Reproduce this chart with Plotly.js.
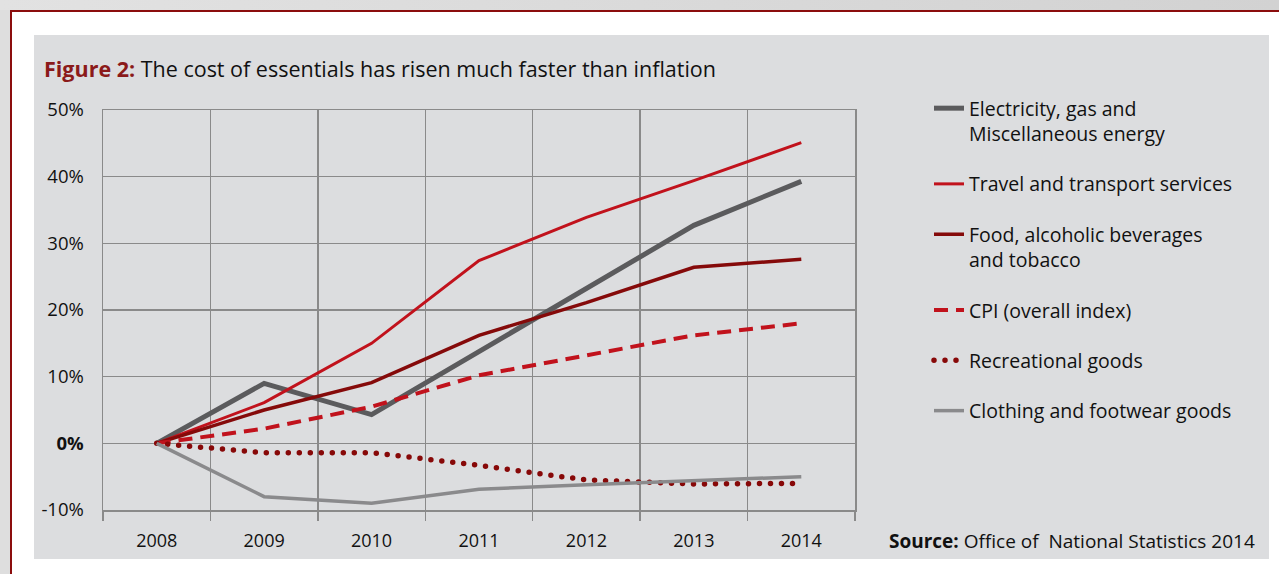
<!DOCTYPE html>
<html>
<head>
<meta charset="utf-8">
<script src="https://cdn.plot.ly/plotly-3.0.1.min.js"></script>
<style>
  html, body { margin: 0; padding: 0; width: 1279px; height: 574px; overflow: hidden; background: #ffffff; }
  #strip { position: absolute; left: 0; top: 0; width: 1279px; height: 10px; background: linear-gradient(to right, #e2e2e2, #d2d2d2); }
  #redtop { position: absolute; left: 10px; top: 10px; width: 1269px; height: 2px; background: #8b0d0d; }
  #redleft { position: absolute; left: 10px; top: 10px; width: 2px; height: 564px; background: #8b0d0d; }
  #leftstrip { position: absolute; left: 0; top: 10px; width: 10px; height: 564px; background: #dedede; }
  #panel { position: absolute; left: 34px; top: 35px; width: 1235px; height: 524px; background: #dcdddf; }
  #chart { position: absolute; left: 0; top: 0; width: 1279px; height: 574px; }
  .scatterlayer .trace:nth-of-type(5) .js-line,
  .legend .scrollbox .groups:nth-of-type(5) .js-line { stroke-linecap: round; }
</style>
</head>
<body>
<div id="strip"></div>
<div id="leftstrip"></div>
<div id="redtop"></div>
<div id="redleft"></div>
<div id="panel"></div>
<div id="chart"></div>
<script>
const years = ["2008", "2009", "2010", "2011", "2012", "2013", "2014"];
const electricity = [0, 9.0, 4.3, 13.8, 23.2, 32.7, 39.3];
const travel = [0, 6.1, 15.0, 27.4, 33.9, 39.4, 45.1];
const food = [0, 5.0, 9.1, 16.2, 21.1, 26.4, 27.6];
const cpi = [0, 2.2, 5.5, 10.2, 13.2, 16.2, 18.0];
const recreational = [0, -1.4, -1.4, -3.3, -5.5, -6.1, -6.0];
const clothing = [0, -8.0, -9.0, -6.9, -6.2, -5.6, -5.0];
const yTickVals = [-10, 0, 10, 20, 30, 40, 50];
const yTickText = ["-10%", "<b>0%</b>", "10%", "20%", "30%", "40%", "50%"];
const names = [
  "Electricity, gas and<br>Miscellaneous energy",
  "Travel and transport services",
  "Food, alcoholic beverages<br>and tobacco",
  "CPI (overall index)",
  "Recreational goods",
  "Clothing and footwear goods"
];

const series = [electricity, travel, food, cpi, recreational, clothing];
const styles = [
  {color: "#5b5b5d", width: 5, dash: "solid"},
  {color: "#c1121c", width: 3, dash: "solid"},
  {color: "#850a0a", width: 3.5, dash: "solid"},
  {color: "#c1121c", width: 4, dash: "14px,8px"},
  {color: "#870808", width: 5.5, dash: "0px,11px"},
  {color: "#8a8a8c", width: 3.5, dash: "solid"}
];

const traces = series.map((s, i) => ({
  x: years,
  y: s,
  type: "scatter",
  mode: "lines",
  name: names[i],
  legendgroup: "g" + i,
  line: styles[i],
  hoverinfo: "skip"
}));

const font = "Open Sans, Noto Sans, sans-serif";

const layout = {
  width: 1279,
  height: 574,
  paper_bgcolor: "rgba(0,0,0,0)",
  plot_bgcolor: "#dcdddf",
  margin: {l: 103, r: 424, t: 110, b: 64},
  font: {family: font, size: 18, color: "#111111"},
  title: {
    text: '<span style="color:#8b1a1a"><b>Figure 2:</b></span> The cost of essentials has risen much faster than inflation',
    font: {family: font, size: 21.5, color: "#111111"},
    x: 44 / 1279, xanchor: "left", xref: "container",
    y: 1 - 69 / 574, yanchor: "middle", yref: "container"
  },
  xaxis: {
    type: "category",
    range: [-0.5, 6.5],
    tickson: "boundaries",
    showgrid: true,
    gridcolor: "#8a8a8a",
    gridwidth: 1.5,
    ticks: "outside",
    ticklen: 9,
    tickwidth: 1.5,
    tickcolor: "#8a8a8a",
    showline: true,
    linecolor: "#8a8a8a",
    linewidth: 1.5,
    mirror: true,
    ticklabelstandoff: 14,
    tickfont: {family: font, size: 18, color: "#111111"},
    zeroline: false,
    fixedrange: true
  },
  yaxis: {
    range: [-10, 50],
    tickvals: yTickVals,
    ticktext: yTickText,
    showgrid: true,
    gridcolor: "#8a8a8a",
    gridwidth: 1.5,
    showline: true,
    linecolor: "#8a8a8a",
    linewidth: 1.5,
    mirror: true,
    ticks: "",
    ticklabelstandoff: 14,
    tickfont: {family: font, size: 18.5, color: "#111111"},
    zeroline: false,
    fixedrange: true
  },
  showlegend: true,
  legend: {
    x: (929 - 103) / 752,
    xanchor: "left",
    y: (510 - 89) / 400,
    yanchor: "top",
    bgcolor: "rgba(0,0,0,0)",
    font: {family: font, size: 19.5, color: "#111111"},
    tracegroupgap: 22,
    valign: "top",
    itemwidth: 30,
    maxheight: 1000
  },
  annotations: [{
    xref: "paper", yref: "paper",
    x: (1257 - 103) / 752, y: (510 - 541) / 400,
    xanchor: "right", yanchor: "middle",
    text: "<b>Source:</b> Office of  National Statistics 2014",
    showarrow: false,
    font: {family: font, size: 19, color: "#111111"}
  }]
};

Plotly.newPlot("chart", traces, layout, {displayModeBar: false, staticPlot: true});
</script>
</body>
</html>
